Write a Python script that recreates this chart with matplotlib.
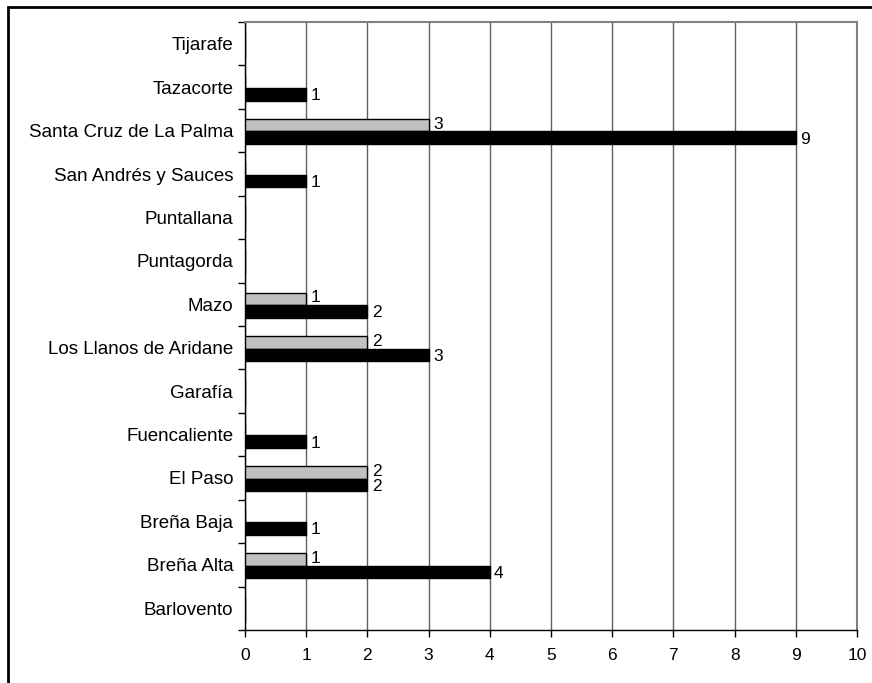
import matplotlib
matplotlib.use("Agg")
import matplotlib.pyplot as plt
from matplotlib.patches import Rectangle
import numpy as np

plt.rcParams['font.family'] = ['Liberation Sans', 'DejaVu Sans']

municipios = ["Barlovento", "Breña Alta", "Breña Baja", "El Paso", "Fuencaliente",
              "Garafía", "Los Llanos de Aridane", "Mazo", "Puntagorda", "Puntallana",
              "San Andrés y Sauces", "Santa Cruz de La Palma", "Tazacorte", "Tijarafe"]
serie_gris = [0, 1, 0, 2, 0, 0, 2, 1, 0, 0, 0, 3, 0, 0]
serie_negra = [0, 4, 1, 2, 1, 0, 3, 2, 0, 0, 1, 9, 1, 0]
x_ticks = list(range(0, 11))

fig = plt.figure(figsize=(8.72, 6.83), dpi=100)
ax = fig.add_axes([245/872, 1-630/683, (857-245)/872, (630-22)/683])

y = np.arange(len(municipios))
h = 0.29
off = 0.02
ax.barh(y + h/2 - off, serie_gris, height=h, color="#c0c0c0", edgecolor="black", linewidth=1, zorder=3)
ax.barh(y - h/2 - off, serie_negra, height=h, color="black", edgecolor="black", linewidth=1, zorder=3)

# value labels, skipping empty bars
for yi, v in zip(y, serie_gris):
    if v:
        ax.text(v + 0.07, yi + h/2 - off + 0.02, str(v), va="center", ha="left", fontsize=12.5, zorder=4)
for yi, v in zip(y, serie_negra):
    if v:
        ax.text(v + 0.07, yi - h/2 - off - 0.03, str(v), va="center", ha="left", fontsize=12.5, zorder=4)

ax.set_xlim(0, 10)
ax.set_ylim(-0.5, len(municipios) - 0.5)
ax.set_xticks(x_ticks)
ax.set_xticklabels([str(t) for t in x_ticks], fontsize=12.5)
ax.set_yticks(y)
ax.set_yticklabels(municipios, fontsize=13.5)
ax.set_yticks(np.arange(-0.5, len(municipios)), minor=True)
ax.tick_params(axis="y", which="major", length=0, pad=8.5)
ax.tick_params(axis="y", which="minor", length=5, width=1, direction="out")
ax.tick_params(axis="x", length=5, width=1, direction="out", pad=8)
ax.xaxis.grid(True, color="#606060", linewidth=1, zorder=0)
ax.set_axisbelow(True)

for side in ("top", "right"):
    ax.spines[side].set_color("#808080")
    ax.spines[side].set_linewidth(1.5)
for side in ("left", "bottom"):
    ax.spines[side].set_color("black")
    ax.spines[side].set_linewidth(1)

# outer chart frame
fig.patches.append(Rectangle((8/872, -0.05), 1.1, 1 - 7/683 + 0.05, transform=fig.transFigure,
                             fill=False, edgecolor="black", linewidth=2))

fig.savefig("out.png", dpi=100)
